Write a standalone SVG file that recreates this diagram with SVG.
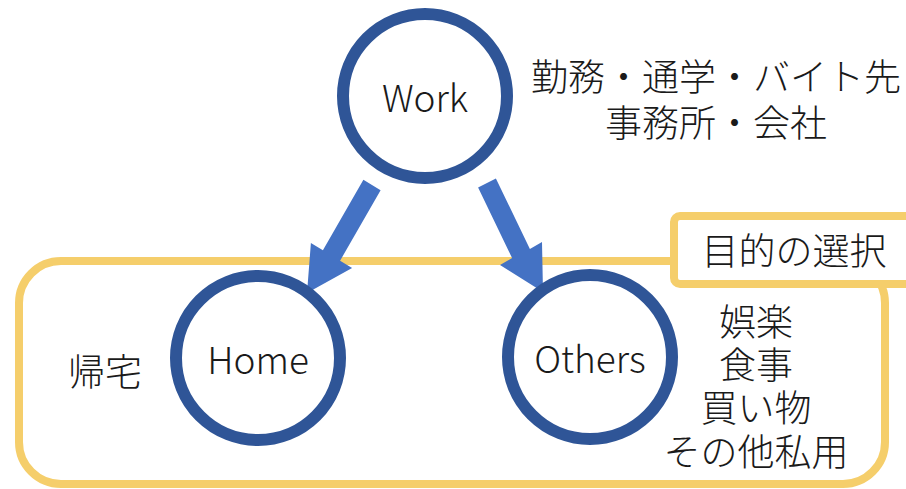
<svg xmlns="http://www.w3.org/2000/svg" width="906" height="489" viewBox="0 0 906 489">
<style>
.c{fill:#fff;stroke:#2F5597;stroke-width:12}
.t{font-family:"Noto Sans CJK JP","Noto Sans",sans-serif;font-size:37px;font-weight:300;fill:#1a1a1a;text-anchor:middle;dominant-baseline:central}
.a{fill:#4472C4}
</style>
<rect width="906" height="489" fill="#fff"/>
<g id="group">
<rect x="19" y="261" width="866" height="223" rx="42" fill="none" stroke="#F5CE6B" stroke-width="8"/>
</g>
<g id="label">
<rect x="674" y="216" width="250" height="68" rx="6" fill="#fff" stroke="#F5CE6B" stroke-width="8"/>
<text class="t" x="794" y="249">目的の選択</text>
</g>
<g id="connectors">
<polygon class="a" points="363.4,179.8 380.6,190.2 340.1,260.7 352.1,267.9 307,293 310.9,243.1 322.9,250.3"/>
<polygon class="a" points="478.1,187.6 495.9,178.4 529.9,248.9 542,242 543,292 500,265 512.1,258.1"/>
</g>
<g id="work">
<circle class="c" cx="425" cy="96" r="82"/>
<text class="t" x="425" y="96">Work</text>
</g>
<g id="home">
<circle class="c" cx="258" cy="358" r="82"/>
<text class="t" x="258" y="358">Home</text>
</g>
<g id="others">
<circle class="c" cx="590" cy="357" r="82"/>
<text class="t" x="590" y="357">Others</text>
</g>
<g id="work-note">
<text class="t" x="716" y="75"><tspan x="716">勤務・通学・バイト先</tspan><tspan x="716" dy="46">事務所・会社</tspan></text>
</g>
<g id="home-note">
<text class="t" x="105" y="370">帰宅</text>
</g>
<g id="others-note">
<text class="t" x="756" y="320"><tspan x="756">娯楽</tspan><tspan x="756" dy="43">食事</tspan><tspan x="756" dy="43">買い物</tspan><tspan x="756" dy="44">その他私用</tspan></text>
</g>
</svg>
